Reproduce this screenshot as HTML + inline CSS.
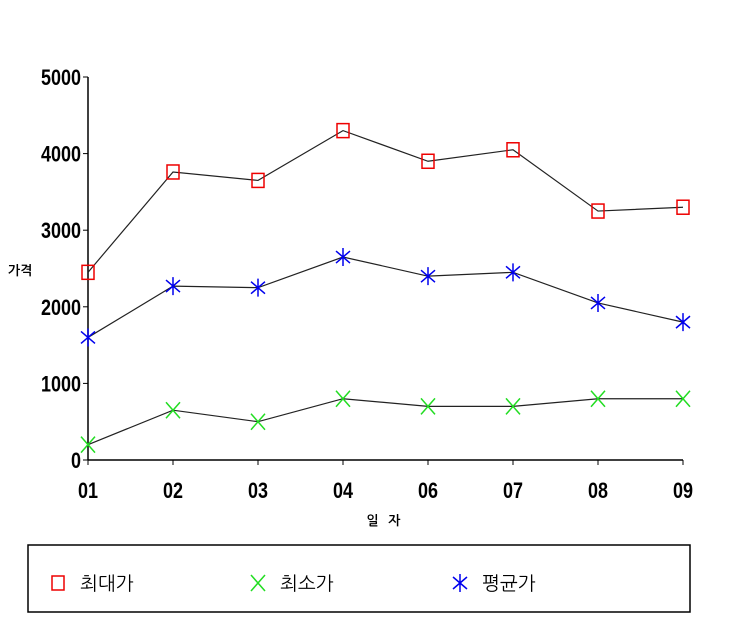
<!DOCTYPE html>
<html><head><meta charset="utf-8"><style>
body{margin:0;background:#fff;width:730px;height:630px;overflow:hidden}
svg text{font-family:"Liberation Sans","NanumGothic","Noto Sans CJK KR",sans-serif}
</style></head><body>
<svg id="c" width="730" height="630" xmlns="http://www.w3.org/2000/svg"></svg>
<script>
const categories=["01","02","03","04","06","07","08","09"];
const maxPrice=[2450,3760,3650,4300,3900,4050,3250,3300];
const minPrice=[200,650,500,800,700,700,800,800];
const avgPrice=[1600,2270,2250,2650,2400,2450,2050,1800];
const yTicks=[0,1000,2000,3000,4000,5000];
const svg=document.getElementById('c');
const NS="http://www.w3.org/2000/svg";
const x0=88,dx=85,yBase=460,yTop=77,yMax=5000;
function xs(i){return x0+i*dx}
function ys(v){return yBase-(v/yMax)*(yBase-yTop)}
function mk(t,a,p){const e=document.createElementNS(NS,t);for(const k in a)e.setAttribute(k,a[k]);(p||svg).appendChild(e);return e}
let ax=mk('line',{x1:x0,y1:yTop,x2:x0,y2:yBase,stroke:'#000','stroke-width':1.5});


let bx=mk('line',{x1:x0,y1:yBase,x2:xs(categories.length-1),y2:yBase,stroke:'#000','stroke-width':1.5});


yTicks.forEach(v=>{
 mk('line',{x1:x0-5,y1:ys(v),x2:x0,y2:ys(v),stroke:'#000'});
 const s=String(v);
 const w=s.length*10;
 const t=mk('text',{x:x0-7-w,y:ys(v)+8,'font-size':22,'font-weight':'bold',textLength:w,lengthAdjust:'spacingAndGlyphs'});
 t.textContent=s;
 
 
});
categories.forEach((c,i)=>{
 mk('line',{x1:xs(i),y1:yBase,x2:xs(i),y2:yBase+5,stroke:'#000'});
 const t=mk('text',{x:xs(i)-10,y:yBase+38,'font-size':22,'font-weight':'bold',textLength:20,lengthAdjust:'spacingAndGlyphs'});
 t.textContent=c;
 
 
});
let yt=mk('text',{x:8,y:275,'font-size':13,'font-weight':'bold'});yt.textContent='가격';


let xt=mk('text',{x:385,y:525,'text-anchor':'middle','font-size':13,'font-weight':'bold','letter-spacing':3});xt.textContent='일 자';


function marker(kind,x,y,g){
 if(kind==='sq')mk('rect',{x:x-6,y:y-7,width:12,height:14,fill:'none',stroke:'#e00','stroke-width':1.5},g);
 else if(kind==='x'){mk('path',{d:`M${x-7} ${y-8}L${x+7} ${y+8}M${x+7} ${y-8}L${x-7} ${y+8}`,stroke:'#2d2','stroke-width':1.5},g);}
 else mk('path',{d:`M${x} ${y-9}V${y+9}M${x-7} ${y-6}L${x+7} ${y+6}M${x+7} ${y-6}L${x-7} ${y+6}`,stroke:'#00e','stroke-width':1.5},g);
}
[[maxPrice,'sq','max-series'],[avgPrice,'st','avg-series'],[minPrice,'x','min-series']].forEach(([d,k,n])=>{
 const g=mk('g',{});
 
 
 mk('polyline',{points:d.map((v,i)=>xs(i)+','+ys(v)).join(' '),fill:'none',stroke:'#222','stroke-width':1.2},g);
 d.forEach((v,i)=>marker(k,xs(i),ys(v),g));
});
const lg=mk('g',{});


mk('rect',{x:28,y:545,width:662,height:67,fill:'none',stroke:'#000','stroke-width':1.5},lg);
[['sq',58,'최대가'],['x',258,'최소가'],['st',460,'평균가']].forEach(([k,x,l])=>{
 const e=mk('g',{},lg);
 
 
 marker(k,x,583,e);
 const t=mk('text',{x:x+22,y:590,'font-size':19},e);t.textContent=l;
});
</script>
</body></html>
